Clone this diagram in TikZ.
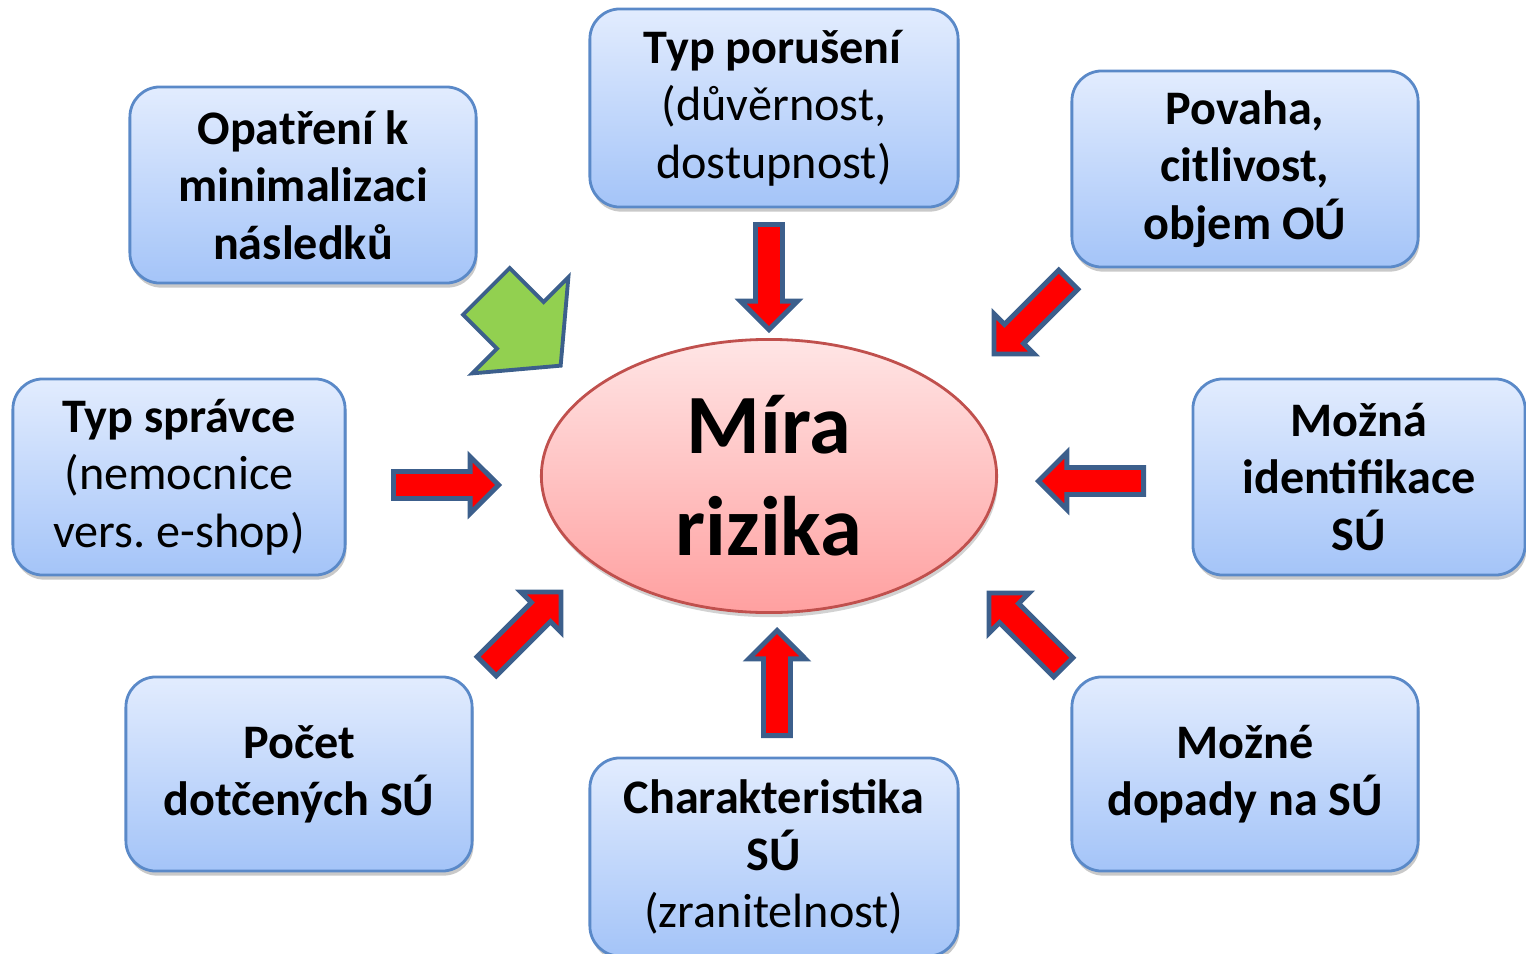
\documentclass[tikz,border=0pt]{standalone}
\usepackage{fontspec}
\setmainfont{Carlito}
\usetikzlibrary{shapes.arrows,shapes.geometric,shadows}

\definecolor{boxtop}{HTML}{E2ECFE}
\definecolor{boxbot}{HTML}{A4C4F8}
\definecolor{boxline}{HTML}{5A89C8}
\definecolor{elltop}{HTML}{FFE5E5}
\definecolor{ellbot}{HTML}{FFA0A0}
\definecolor{ellline}{HTML}{C0504D}
\definecolor{arrline}{HTML}{3C5F8C}
\definecolor{arrgreen}{HTML}{92D050}

\begin{document}
\begin{tikzpicture}[x=0.01cm,y=-0.01cm,
    factor/.style={draw=boxline,line width=0.8pt,top color=boxtop,bottom color=boxbot,
        rounded corners=0.3cm,minimum width=3.46cm,minimum height=1.96cm,align=center,
        font=\fontsize{13.7}{16.3}\selectfont,
        drop shadow={shadow xshift=0.4pt,shadow yshift=-1.3pt,opacity=0.3,fill=black!70}},
    redarrow/.style={single arrow,draw=arrline,fill=red,line width=1.4pt,inner xsep=0pt,
        inner ysep=0.11cm,single arrow head extend=0.15cm,minimum height=1.05cm,anchor=tail},
    greenarrow/.style={single arrow,draw=arrline,fill=arrgreen,line width=1.1pt,inner xsep=0pt,
        inner ysep=0.31cm,single arrow head extend=0.35cm,single arrow tip angle=100,
        minimum height=1.05cm,anchor=tail}]
    \useasboundingbox (0,0) rectangle (1526,954);

    % center
    \node(mira) [ellipse,draw=ellline,line width=0.8pt,top color=elltop,bottom color=ellbot,
        minimum width=4.55cm,minimum height=2.73cm,inner sep=0pt,align=center,
        font=\fontsize{24}{29}\selectfont\bfseries,
        drop shadow={shadow xshift=0.4pt,shadow yshift=-1.3pt,opacity=0.25,fill=black!70}]
        at (769,476) {Míra\\rizika};

    % factors
    \node(opat) [factor] at (303,185) {\textbf{Opatření k}\\\textbf{minimalizaci}\\\textbf{následků}};
    \node(por) [factor,minimum width=3.68cm,minimum height=1.98cm] at (774,108)
        {\textbf{Typ porušení}\\(důvěrnost,\\dostupnost)};
    \node(pov) [factor] at (1245,169) {\textbf{Povaha,}\\\textbf{citlivost,}\\\textbf{objem OÚ}};
    \node(spr) [factor,minimum width=3.32cm] at (179,477)
        {\textbf{Typ správce}\\(nemocnice\\vers.\ e-shop)};
    \node(ident) [factor,minimum width=3.32cm] at (1359,477)
        {\textbf{Možná}\\\textbf{identifikace}\\\textbf{SÚ}};
    \node(pocet) [factor,minimum height=1.94cm] at (299,774) {\textbf{Počet}\\\textbf{dotčených SÚ}};
    \node(char) [factor,minimum width=3.68cm,minimum height=1.98cm] at (774,857)
        {\textbf{Charakteristika}\\\textbf{SÚ}\\(zranitelnost)};
    \node(dop) [factor,minimum height=1.94cm] at (1245,774) {\textbf{Možné}\\\textbf{dopady na SÚ}};

    % arrows towards the center
    \node(apor) [redarrow,rotate=-90] at (769,222) {};
    \node(apov) [redarrow,rotate=225] at (1070,278) {};
    \node(aident) [redarrow,rotate=180] at (1146,481) {};
    \node(adop) [redarrow,rotate=135] at (1065,669) {};
    \node(achar) [redarrow,rotate=90] at (777,738) {};
    \node(apocet) [redarrow,rotate=45] at (485,668) {};
    \node(aspr) [redarrow] at (391,485) {};
    \node(aopat) [greenarrow,rotate=-45] at (485,290) {};
\end{tikzpicture}
\end{document}
